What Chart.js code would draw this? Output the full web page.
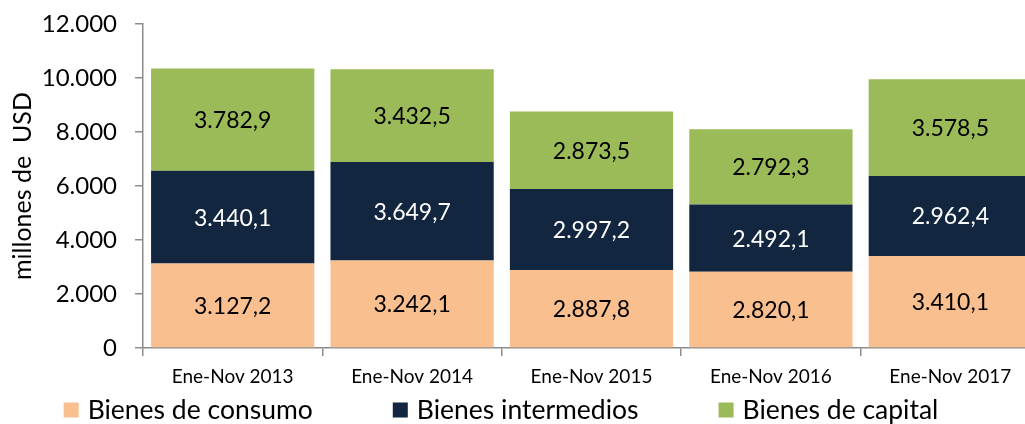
<!DOCTYPE html>
<html>
<head>
<meta charset="utf-8">
<script src="https://cdn.jsdelivr.net/npm/chart.js@4.4.1/dist/chart.umd.min.js"></script>
<style>
  html, body { margin: 0; padding: 0; background: #fff; overflow: hidden; }
  #wrap { width: 1040px; height: 424px; }
</style>
</head>
<body>
<div id="wrap"><canvas id="chart"></canvas></div>
<script>
// periods on the x axis
const periods = ['Ene-Nov 2013', 'Ene-Nov 2014', 'Ene-Nov 2015', 'Ene-Nov 2016', 'Ene-Nov 2017'];

// millones de USD
const consumo = [3127.2, 3242.1, 2887.8, 2820.1, 3410.1];
const intermedios = [3440.1, 3649.7, 2997.2, 2492.1, 2962.4];
const capital = [3782.9, 3432.5, 2873.5, 2792.3, 3578.5];

const yMax = 12000;
const yStep = 2000;

const FONT = 'Lato, "DejaVu Sans", sans-serif';
const AXIS_GREY = '#8c8c8c';

// spanish style: 12.000 / 3.782,9
function fmt(v, dec) {
    const parts = v.toFixed(dec).split('.');
    parts[0] = parts[0].replace(/\B(?=(\d{3})+(?!\d))/g, '.');
    return parts.join(',');
}

// labels in the middle of each segment
const segmentLabels = {
    id: 'segmentLabels',
    afterDatasetsDraw(chart) {
        const ctx = chart.ctx;
        ctx.save();
        ctx.font = '23px ' + FONT;
        ctx.textAlign = 'center';
        ctx.textBaseline = 'middle';
        chart.data.datasets.forEach((ds, i) => {
            const meta = chart.getDatasetMeta(i);
            meta.data.forEach((bar, j) => {
                ctx.fillStyle = ds.labelColor;
                ctx.fillText(fmt(ds.data[j], 1), bar.x, (bar.y + bar.base) / 2 + 1);
            });
        });
        ctx.restore();
    }
};

// bottom legend: wide gaps between items, centred on the visible page width
const bottomLegend = {
    id: 'bottomLegend',
    afterDraw(chart) {
        const ctx = chart.ctx;
        const box = 15, gap = 9, spacing = 80, centreX = 501, y = 410;
        ctx.save();
        ctx.font = '26.5px ' + FONT;
        ctx.textBaseline = 'middle';
        const items = chart.data.datasets.map(ds => ({
            text: ds.label, color: ds.backgroundColor,
            w: box + gap + ctx.measureText(ds.label).width
        }));
        const total = items.reduce((s, it) => s + it.w, 0) + spacing * (items.length - 1);
        let x = centreX - total / 2;
        items.forEach(it => {
            ctx.fillStyle = it.color;
            ctx.fillRect(x, y - box / 2, box, box);
            ctx.fillStyle = '#000';
            ctx.fillText(it.text, x + box + gap, y);
            x += it.w + spacing;
        });
        ctx.restore();
    }
};

new Chart(document.getElementById('chart'), {
    type: 'bar',
    data: {
        labels: periods,
        datasets: [
            { label: 'Bienes de consumo', data: consumo, backgroundColor: '#f9bf8f', labelColor: '#000' },
            { label: 'Bienes intermedios', data: intermedios, backgroundColor: '#12263f', labelColor: '#fff' },
            { label: 'Bienes de capital', data: capital, backgroundColor: '#9bbb59', labelColor: '#000' }
        ]
    },
    options: {
        responsive: true,
        maintainAspectRatio: false,
        animation: false,
        barPercentage: 0.91,
        categoryPercentage: 1,
        layout: { padding: { top: 24, right: 0, bottom: 40, left: 0 } },
        plugins: {
            tooltip: { enabled: false },
            legend: { display: false }
        },
        scales: {
            x: {
                stacked: true,
                afterFit: s => { s.height = 36; },
                border: { color: AXIS_GREY, width: 1.5 },
                grid: { display: true, drawOnChartArea: false, color: AXIS_GREY, lineWidth: 1.5, tickLength: 8 },
                ticks: { color: '#000', padding: 9, maxRotation: 0, font: { family: FONT, size: 19 } }
            },
            y: {
                stacked: true,
                min: 0,
                max: yMax,
                // fixed width, and don't let the tick padding push the plot down
                afterFit: s => { s.width = 143; s.paddingTop = 0; s.paddingBottom = 0; },
                border: { color: AXIS_GREY, width: 1.5 },
                grid: { display: true, drawOnChartArea: false, color: AXIS_GREY, lineWidth: 1.5, tickLength: 8 },
                ticks: {
                    stepSize: yStep,
                    color: '#000',
                    padding: 18,
                    font: { family: FONT, size: 24 },
                    callback: v => fmt(v, 0)
                },
                title: {
                    display: true,
                    text: 'millones de  USD',
                    color: '#000',
                    padding: { top: 8, bottom: 0 },
                    font: { family: FONT, size: 25 }
                }
            }
        }
    },
    plugins: [segmentLabels, bottomLegend]
});
</script>
</body>
</html>
